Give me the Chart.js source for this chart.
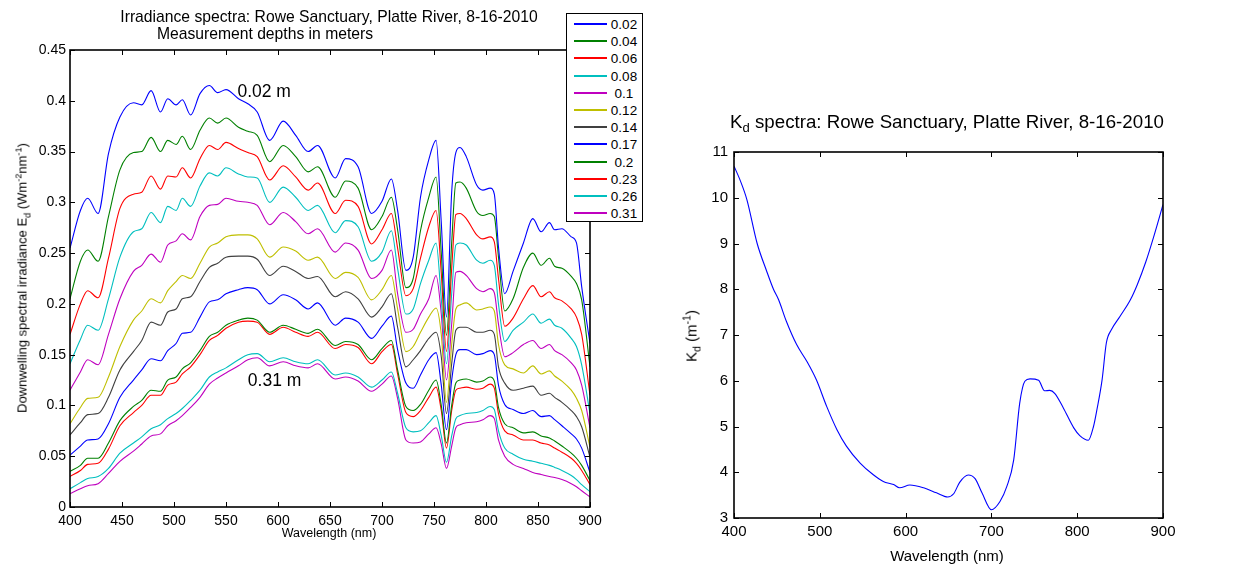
<!DOCTYPE html>
<html>
<head>
<meta charset="utf-8">
<script src="https://cdn.jsdelivr.net/npm/chart.js@4.4.0/dist/chart.umd.min.js"></script>
<style>
  body { margin: 0; background: #fff; font-family: "Liberation Sans", Arial, sans-serif; }
  #wrap { position: relative; width: 1249px; height: 565px; overflow: hidden; background: #fff; }
  canvas { position: absolute; top: 0; }
  .txt { position: absolute; white-space: nowrap; color: #000; line-height: 1; transform: translate(-50%, -50%); }
  .rot { transform: translate(-50%, -50%) rotate(-90deg); }
  sub, sup { font-size: 70%; line-height: 0; }
  #legend { position: absolute; left: 566px; top: 13px; width: 75px; height: 207px; border: 1px solid #000; background: #fff; }
  .row { position: absolute; left: 0; width: 75px; height: 17px; }
  .row i { position: absolute; left: 7px; width: 33px; top: 8px; height: 2px; }
  .row span { position: absolute; left: 40px; width: 34px; text-align: center; font-size: 13.5px; top: 2px; }
</style>
</head>
<body>
<div id="wrap">
  <canvas id="irr" width="650" height="565" style="left:0"></canvas>
  <canvas id="kd" width="599" height="565" style="left:650px"></canvas>

  <div class="txt" style="left:329px; top:17px; font-size:15.7px">Irradiance spectra: Rowe Sanctuary, Platte River, 8-16-2010</div>
  <div class="txt" style="left:265px; top:34px; font-size:15.7px">Measurement depths in meters</div>
  <div class="txt" style="left:329px; top:533px; font-size:12.5px">Wavelength (nm)</div>
  <div class="txt rot" style="left:22px; top:278px; font-size:13px">Downwelling spectral irradiance E<sub>d</sub> (Wm<sup>-2</sup>nm<sup>-1</sup>)</div>

  <div class="txt" style="left:947px; top:122px; font-size:18.7px">K<sub>d</sub> spectra: Rowe Sanctuary, Platte River, 8-16-2010</div>
  <div class="txt rot" style="left:691px; top:336px; font-size:15px">K<sub>d</sub> (m<sup>-1</sup>)</div>
  <div class="txt" style="left:947px; top:555px; font-size:15px">Wavelength (nm)</div>

  <div id="legend"></div>
</div>
<script>
// wavelengths (nm) shared by all irradiance curves
const wavelengths = [
  400, 410, 417, 427,
  437, 448, 461, 469, 478, 487, 494, 502, 508, 516,
  525, 534, 542, 550, 562, 571, 580, 592, 605, 617, 629, 638,
  655, 665, 677, 690, 700, 709, 715, 723, 730, 737, 745, 752,
  757, 762, 767, 771, 775, 781, 791, 797, 804, 808, 812,
  818, 826, 836, 845, 853, 861, 866, 873, 882, 887, 892, 900
];

const depths = ['0.02', '0.04', '0.06', '0.08', '0.1', '0.12', '0.14', '0.17', '0.2', '0.23', '0.26', '0.31'];

// Ed, W m-2 nm-1
const ed002 = [
  0.255, 0.292, 0.304, 0.289,
  0.348, 0.384, 0.398, 0.396, 0.410, 0.389, 0.402, 0.396, 0.401, 0.386,
  0.407, 0.415, 0.408, 0.411, 0.402, 0.397, 0.389, 0.361, 0.380, 0.366, 0.350, 0.356,
  0.324, 0.343, 0.335, 0.289, 0.301, 0.323, 0.292, 0.233, 0.246, 0.305, 0.342, 0.361,
  0.280, 0.187, 0.310, 0.349, 0.354, 0.345, 0.317, 0.312, 0.314, 0.308, 0.256,
  0.210, 0.232, 0.260, 0.284, 0.271, 0.280, 0.273, 0.274, 0.266, 0.260, 0.217, 0.161
];
const ed004 = [
  0.205, 0.242, 0.253, 0.242,
  0.286, 0.332, 0.349, 0.350, 0.364, 0.350, 0.361, 0.357, 0.365, 0.352,
  0.371, 0.383, 0.378, 0.383, 0.374, 0.370, 0.366, 0.340, 0.356, 0.345, 0.330, 0.335,
  0.305, 0.321, 0.314, 0.273, 0.286, 0.305, 0.273, 0.216, 0.225, 0.272, 0.305, 0.325,
  0.250, 0.169, 0.260, 0.319, 0.320, 0.314, 0.291, 0.287, 0.289, 0.286, 0.246,
  0.193, 0.205, 0.236, 0.250, 0.238, 0.245, 0.237, 0.235, 0.227, 0.220, 0.204, 0.138
];
const ed006 = [
  0.170, 0.200, 0.213, 0.206,
  0.245, 0.294, 0.308, 0.310, 0.326, 0.313, 0.326, 0.325, 0.334, 0.324,
  0.343, 0.356, 0.352, 0.359, 0.353, 0.349, 0.345, 0.322, 0.336, 0.325, 0.312, 0.319,
  0.289, 0.302, 0.296, 0.259, 0.273, 0.289, 0.255, 0.208, 0.215, 0.245, 0.276, 0.292,
  0.230, 0.153, 0.235, 0.288, 0.289, 0.284, 0.268, 0.264, 0.266, 0.261, 0.225,
  0.178, 0.186, 0.205, 0.218, 0.207, 0.212, 0.206, 0.203, 0.195, 0.187, 0.170, 0.110
];
const ed008 = [
  0.141, 0.165, 0.179, 0.174,
  0.205, 0.246, 0.271, 0.274, 0.290, 0.280, 0.296, 0.292, 0.304, 0.296,
  0.316, 0.329, 0.326, 0.334, 0.328, 0.325, 0.324, 0.300, 0.315, 0.305, 0.292, 0.297,
  0.270, 0.282, 0.276, 0.242, 0.251, 0.272, 0.235, 0.190, 0.195, 0.220, 0.243, 0.260,
  0.205, 0.141, 0.210, 0.258, 0.260, 0.258, 0.243, 0.240, 0.243, 0.238, 0.200,
  0.163, 0.174, 0.182, 0.190, 0.181, 0.185, 0.179, 0.176, 0.166, 0.158, 0.140, 0.092
];
const ed010 = [
  0.115, 0.133, 0.145, 0.140,
  0.170, 0.205, 0.232, 0.238, 0.249, 0.241, 0.258, 0.262, 0.269, 0.263,
  0.286, 0.297, 0.298, 0.304, 0.301, 0.300, 0.297, 0.278, 0.290, 0.281, 0.269, 0.274,
  0.251, 0.260, 0.253, 0.225, 0.233, 0.253, 0.210, 0.172, 0.175, 0.190, 0.205, 0.228,
  0.190, 0.125, 0.180, 0.231, 0.232, 0.228, 0.215, 0.212, 0.215, 0.211, 0.180,
  0.148, 0.152, 0.160, 0.164, 0.156, 0.160, 0.154, 0.150, 0.142, 0.135, 0.120, 0.078
];
const ed012 = [
  0.082, 0.098, 0.107, 0.108,
  0.128, 0.158, 0.184, 0.193, 0.205, 0.201, 0.213, 0.222, 0.228, 0.225,
  0.240, 0.256, 0.260, 0.266, 0.268, 0.268, 0.264, 0.246, 0.256, 0.252, 0.243, 0.246,
  0.225, 0.231, 0.226, 0.204, 0.214, 0.228, 0.195, 0.153, 0.158, 0.172, 0.187, 0.196,
  0.170, 0.103, 0.160, 0.195, 0.199, 0.201, 0.194, 0.195, 0.197, 0.193, 0.160,
  0.140, 0.136, 0.132, 0.139, 0.131, 0.134, 0.129, 0.124, 0.115, 0.107, 0.095, 0.059
];
const ed014 = [
  0.071, 0.083, 0.091, 0.092,
  0.108, 0.135, 0.153, 0.164, 0.182, 0.179, 0.192, 0.195, 0.205, 0.207,
  0.222, 0.236, 0.240, 0.246, 0.247, 0.247, 0.244, 0.228, 0.237, 0.232, 0.225, 0.227,
  0.207, 0.212, 0.205, 0.187, 0.197, 0.210, 0.177, 0.138, 0.145, 0.154, 0.166, 0.172,
  0.148, 0.092, 0.141, 0.174, 0.177, 0.177, 0.172, 0.172, 0.174, 0.170, 0.138,
  0.122, 0.115, 0.117, 0.119, 0.110, 0.112, 0.108, 0.103, 0.095, 0.089, 0.079, 0.049
];
const ed017 = [
  0.051, 0.060, 0.066, 0.067,
  0.082, 0.108, 0.125, 0.135, 0.146, 0.144, 0.154, 0.161, 0.171, 0.172,
  0.187, 0.202, 0.204, 0.210, 0.214, 0.216, 0.214, 0.200, 0.209, 0.204, 0.195, 0.201,
  0.179, 0.186, 0.182, 0.166, 0.178, 0.188, 0.155, 0.122, 0.117, 0.130, 0.145, 0.152,
  0.120, 0.076, 0.125, 0.150, 0.155, 0.155, 0.150, 0.151, 0.154, 0.150, 0.120,
  0.101, 0.096, 0.092, 0.095, 0.089, 0.090, 0.086, 0.080, 0.072, 0.067, 0.058, 0.034
];
const ed020 = [
  0.035, 0.041, 0.048, 0.048,
  0.063, 0.085, 0.099, 0.105, 0.115, 0.114, 0.125, 0.128, 0.136, 0.142,
  0.154, 0.168, 0.172, 0.179, 0.184, 0.186, 0.184, 0.172, 0.179, 0.175, 0.171, 0.175,
  0.159, 0.163, 0.160, 0.145, 0.156, 0.164, 0.135, 0.099, 0.095, 0.101, 0.115, 0.125,
  0.100, 0.063, 0.100, 0.122, 0.125, 0.126, 0.123, 0.124, 0.128, 0.124, 0.098,
  0.082, 0.078, 0.073, 0.074, 0.070, 0.068, 0.065, 0.060, 0.053, 0.048, 0.041, 0.026
];
const ed023 = [
  0.030, 0.036, 0.042, 0.043,
  0.057, 0.080, 0.093, 0.100, 0.110, 0.110, 0.120, 0.123, 0.131, 0.138,
  0.150, 0.164, 0.169, 0.176, 0.182, 0.183, 0.182, 0.170, 0.177, 0.172, 0.168, 0.172,
  0.156, 0.160, 0.157, 0.141, 0.153, 0.160, 0.131, 0.093, 0.089, 0.095, 0.108, 0.118,
  0.095, 0.058, 0.095, 0.115, 0.117, 0.118, 0.116, 0.117, 0.121, 0.117, 0.092,
  0.075, 0.071, 0.066, 0.066, 0.063, 0.061, 0.058, 0.054, 0.048, 0.043, 0.036, 0.022
];
const ed026 = [
  0.018, 0.024, 0.028, 0.030,
  0.038, 0.053, 0.063, 0.069, 0.077, 0.081, 0.087, 0.092, 0.097, 0.105,
  0.115, 0.128, 0.133, 0.137, 0.145, 0.150, 0.151, 0.143, 0.147, 0.143, 0.141, 0.145,
  0.130, 0.132, 0.128, 0.118, 0.125, 0.133, 0.112, 0.078, 0.074, 0.075, 0.083, 0.090,
  0.070, 0.044, 0.070, 0.087, 0.090, 0.092, 0.093, 0.095, 0.099, 0.096, 0.075,
  0.058, 0.052, 0.047, 0.045, 0.043, 0.041, 0.039, 0.036, 0.031, 0.027, 0.022, 0.015
];
const ed031 = [
  0.013, 0.018, 0.021, 0.023,
  0.033, 0.045, 0.055, 0.062, 0.070, 0.072, 0.080, 0.085, 0.090, 0.098,
  0.108, 0.121, 0.127, 0.132, 0.139, 0.145, 0.147, 0.139, 0.143, 0.139, 0.137, 0.141,
  0.126, 0.128, 0.124, 0.114, 0.121, 0.129, 0.107, 0.066, 0.063, 0.064, 0.072, 0.078,
  0.062, 0.038, 0.060, 0.078, 0.081, 0.083, 0.084, 0.086, 0.090, 0.087, 0.066,
  0.050, 0.042, 0.038, 0.034, 0.032, 0.030, 0.029, 0.027, 0.023, 0.020, 0.016, 0.010
];
const irradiance = [ed002, ed004, ed006, ed008, ed010, ed012, ed014, ed017, ed020, ed023, ed026, ed031];

// Kd spectrum, m-1
const kdWavelengths = [
  400, 407, 415, 427, 438, 446, 452, 461, 473, 485,
  496, 508, 520, 531, 547, 562, 574, 586, 593, 605,
  621, 636, 649, 656, 663, 673, 681, 689, 700, 710,
  718, 726, 733, 739, 745, 755, 762, 768, 774, 784,
  796, 803, 813, 819, 823, 829, 834, 840, 850, 862,
  870, 880, 890, 900
];
const kdValues = [
  10.69, 10.39, 9.96, 9.0, 8.4, 8.0, 7.77, 7.30, 6.79, 6.42,
  6.02, 5.44, 4.93, 4.57, 4.20, 3.95, 3.80, 3.73, 3.66, 3.72,
  3.66, 3.55, 3.46, 3.53, 3.78, 3.94, 3.86, 3.55, 3.18, 3.36,
  3.69, 4.27, 5.51, 5.99, 6.04, 6.01, 5.78, 5.79, 5.72, 5.40,
  4.97, 4.80, 4.70, 5.00, 5.37, 6.02, 6.83, 7.12, 7.41, 7.77,
  8.1, 8.6, 9.2, 9.85
];

// curve labels placed in data coordinates
const curveNotes = [
  { text: '0.02 m', x: 561, y: 0.408 },
  { text: '0.31 m', x: 571, y: 0.124 }
];

const lineColors = ['#0000ff', '#008000', '#ff0000', '#00bfbf', '#bf00bf', '#bfbf00', '#404040',
                    '#0000ff', '#008000', '#ff0000', '#00bfbf', '#bf00bf'];
const FONT = '"Liberation Sans", Arial, sans-serif';

// matlab style box with inward ticks on all four sides
const boxTicks = {
  id: 'boxTicks',
  afterDraw(chart) {
    const { ctx, chartArea: a, scales: { x, y } } = chart;
    const L = 5;
    ctx.save();
    ctx.strokeStyle = '#000';
    ctx.lineWidth = 1;
    ctx.beginPath();
    x.ticks.forEach(t => {
      const p = Math.round(x.getPixelForValue(t.value)) + 0.5;
      ctx.moveTo(p, a.bottom); ctx.lineTo(p, a.bottom - L);
      ctx.moveTo(p, a.top); ctx.lineTo(p, a.top + L);
    });
    y.ticks.forEach(t => {
      const p = Math.round(y.getPixelForValue(t.value)) + 0.5;
      ctx.moveTo(a.left, p); ctx.lineTo(a.left + L, p);
      ctx.moveTo(a.right, p); ctx.lineTo(a.right - L, p);
    });
    ctx.stroke();
    ctx.lineWidth = 1.6;
    ctx.strokeRect(a.left, a.top, a.right - a.left, a.bottom - a.top);
    ctx.restore();
  }
};

const notes = {
  id: 'notes',
  afterDatasetsDraw(chart) {
    const { ctx, scales: { x, y } } = chart;
    ctx.save();
    ctx.fillStyle = '#000';
    ctx.font = '17.5px ' + FONT;
    ctx.textAlign = 'left';
    ctx.textBaseline = 'middle';
    curveNotes.forEach(n => ctx.fillText(n.text, x.getPixelForValue(n.x), y.getPixelForValue(n.y)));
    ctx.restore();
  }
};

function axis(min, max, step, size, pad, fit, fmt) {
  return {
    type: 'linear', min: min, max: max,
    grid: { display: false, drawTicks: false, tickLength: 0 }, border: { display: false },
    ticks: { stepSize: step, color: '#000', font: { family: FONT, size: size }, padding: pad,
             maxRotation: 0, autoSkip: false, callback: fmt },
    afterFit: fit
  };
}
const num = v => String(Math.round(v * 100) / 100);

new Chart(document.getElementById('irr'), {
  type: 'line',
  data: {
    datasets: irradiance.map((s, i) => ({
      label: depths[i],
      data: wavelengths.map((w, j) => ({ x: w, y: s[j] })),
      borderColor: lineColors[i],
      borderWidth: 1.1,
      pointRadius: 0,
      cubicInterpolationMode: 'monotone',
      fill: false
    }))
  },
  options: {
    responsive: false, animation: false, devicePixelRatio: 1,
    layout: { padding: { left: 0, right: 60, top: 50, bottom: 0 } },
    plugins: { legend: { display: false }, tooltip: { enabled: false } },
    scales: {
      x: axis(400, 900, 50, 14, 6, s => { s.height = 58; }, num),
      y: axis(0, 0.45, 0.05, 14, 4, s => { s.width = 70; }, num)
    }
  },
  plugins: [boxTicks, notes]
});

new Chart(document.getElementById('kd'), {
  type: 'line',
  data: {
    datasets: [{
      label: 'Kd',
      data: kdWavelengths.map((w, j) => ({ x: w, y: kdValues[j] })),
      borderColor: '#0000ff',
      borderWidth: 1.1,
      pointRadius: 0,
      cubicInterpolationMode: 'monotone',
      fill: false
    }]
  },
  options: {
    responsive: false, animation: false, devicePixelRatio: 1,
    layout: { padding: { left: 0, right: 86, top: 152, bottom: 0 } },
    plugins: { legend: { display: false }, tooltip: { enabled: false } },
    scales: {
      x: axis(400, 900, 100, 15, 5, s => { s.height = 47; }, num),
      y: axis(3, 11, 1, 15, 6, s => { s.width = 84; }, num)
    }
  },
  plugins: [boxTicks]
});

// legend box built from the depth list
const leg = document.getElementById('legend');
depths.forEach((d, i) => {
  const row = document.createElement('div');
  row.className = 'row';
  row.style.top = Math.round(1 + i * 17.2) + 'px';
  row.innerHTML = '<i style="background:' + lineColors[i] + '"></i><span>' + d + '</span>';
  leg.appendChild(row);
});
</script>
</body>
</html>
